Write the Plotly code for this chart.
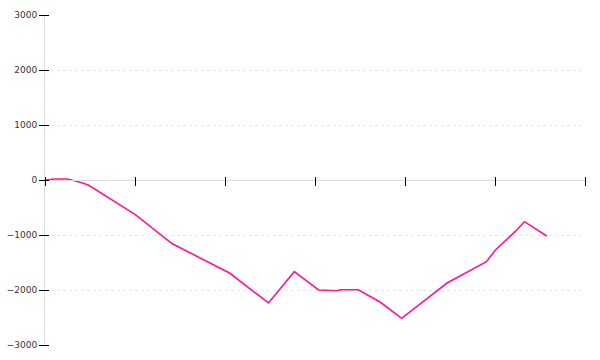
import plotly.graph_objects as go

# data
x_vals = [0, 0.44, 0.96, 1.19, 1.63, 1.92, 4.0, 5.64, 8.22, 9.93, 11.08, 12.16,
          13.04, 13.09, 13.92, 14.89, 15.85, 17.87, 19.62, 20.0, 20.89, 21.31, 22.3]
y_vals = [0, 18, 18, 0, -49, -91, -624, -1155, -1696, -2236, -1667, -2000,
          -2013, -1995, -1995, -2218, -2515, -1873, -1485, -1282, -940, -758, -1018]
y_ticks = [-3000, -2000, -1000, 0, 1000, 2000, 3000]
x_ticks = [0, 4, 8, 12, 16, 20, 24]

W, H = 600, 360
ML, MR, MT, MB = 45, 15, 14, 14
PW, PH = W - ML - MR, H - MT - MB
YR = 3000 * PH / 330.0  # keep 3000 one pixel inside the frame

fig = go.Figure()
fig.add_trace(go.Scatter(x=x_vals, y=y_vals, mode="lines",
                         line=dict(color="#FF1493", width=1.6),
                         hoverinfo="skip", showlegend=False))
# invisible helper trace so the tick-only axes are drawn
fig.add_trace(go.Scatter(x=x_vals, y=y_vals, mode="lines", xaxis="x2", yaxis="y2",
                         line=dict(color="rgba(0,0,0,0)", width=0),
                         hoverinfo="skip", showlegend=False))

font = dict(family="DejaVu Sans", size=9, color="#333333")
fig.update_layout(
    width=W, height=H,
    margin=dict(l=ML, r=MR, t=MT, b=MB, autoexpand=False),
    paper_bgcolor="white", plot_bgcolor="white",
    font=font,
    xaxis=dict(range=[0, 24], tickvals=x_ticks, showticklabels=False,
               ticks="", showline=True, linecolor="#dddddd", linewidth=1,
               showgrid=False, zeroline=False,
               anchor="free", position=0.5),
    xaxis2=dict(range=[0, 24], tickvals=x_ticks, showticklabels=False,
                ticks="outside", ticklen=9, tickcolor="black", tickwidth=1,
                showline=False, showgrid=False, zeroline=False,
                overlaying="x", anchor="free",
                position=(PH / 2 + 4) / PH),
    yaxis=dict(range=[-YR, YR], tickvals=y_ticks,
               ticks="outside", ticklen=5, tickcolor="black", tickwidth=1,
               showline=True, linecolor="#dddddd", linewidth=1,
               showgrid=True, gridcolor="#e6e6e6", griddash="dot", gridwidth=1,
               zeroline=False, tickfont=font),
    yaxis2=dict(range=[-YR, YR], tickvals=y_ticks, showticklabels=False,
                ticks="outside", ticklen=8, tickcolor="black", tickwidth=1,
                showline=False, showgrid=False, zeroline=False,
                overlaying="y", anchor="free", side="left",
                position=3.5 / PW),
)
fig.write_html("out.html")
